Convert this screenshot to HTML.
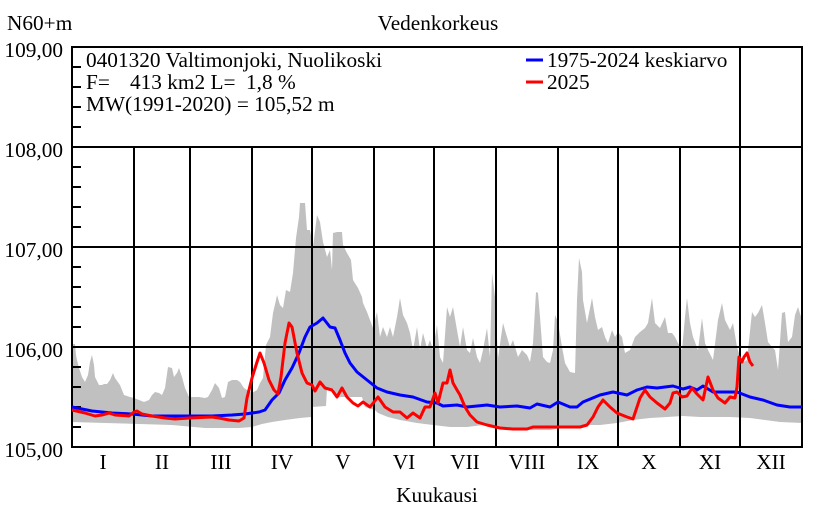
<!DOCTYPE html>
<html><head><meta charset="utf-8"><style>
html,body{margin:0;padding:0;background:#fff;}
svg{display:block;}
text{font-family:"Liberation Serif","Times New Roman",serif;font-size:21.3px;fill:#000;}
</style></head><body>
<svg width="840" height="520" viewBox="0 0 840 520" xmlns="http://www.w3.org/2000/svg">
<rect width="840" height="520" fill="#fff"/>
<!-- gray envelope -->
<polygon fill="#c0c0c0" stroke="none" points="72,344 75,344 76,355 77,360 79,368 82,377 85,382 88,375 90,362 92,355 94,365 95,377 99,385 102,385 104,384 107,384 110,380 113,373 115,378 120,385 124,395 130,397 134,398 139,400 144,402 149,400 152,395 155,392 159,393 162,395 165,388 168,367 172,368 174,377 177,373 179,368 182,377 185,388 189,397 199,397 205,398 208,397 212,390 215,383 219,388 222,398 225,397 228,382 232,380 237,380 240,382 244,388 247,390 252,393 257,390 260,383 263,378 266,345 270,337 273,313 276,300 277,295 280,305 283,308 286,290 290,292 293,273 296,238 299,217 300,203 305,203 307,230 310,230 313,247 317,215 320,222 323,242 327,257 330,250 332,270 333,233 337,232 342,232 343,245 347,253 351,260 353,280 358,288 362,297 363,303 367,312 370,320 373,328 377,312 380,337 383,327 387,337 390,327 393,337 397,317 400,298 403,315 407,323 410,333 413,350 417,327 420,350 423,333 427,348 430,340 433,350 437,325 440,357 443,363 447,307 450,317 453,307 457,330 460,347 463,327 467,350 470,353 473,338 477,357 480,363 483,350 487,328 490,357 492,273 495,297 498,358 503,323 507,337 510,347 513,340 518,357 522,350 527,355 530,362 533,343 536,292 538,293 540,317 543,357 547,362 550,363 553,350 555,315 558,322 562,347 565,363 570,372 575,373 577,300 579,258 582,272 583,300 587,323 592,298 595,317 598,330 602,327 605,337 608,343 612,330 615,337 618,332 622,337 625,353 630,350 635,337 640,332 645,328 648,323 652,298 655,323 660,328 665,317 668,333 672,333 675,337 678,343 682,350 685,317 687,298 690,323 693,337 698,350 702,318 705,343 708,350 713,360 718,320 722,303 725,320 730,330 733,323 737,347 742,363 747,360 752,312 755,317 758,313 762,305 765,323 768,342 772,347 775,350 778,370 782,313 785,312 788,342 792,337 795,315 798,307 802,320 802,423 780,422 765,420 750,418 730,417 700,417 683,416 667,417 650,418 633,420 617,423 600,425 583,425 567,427 550,430 533,430 500,428 483,425 467,427 450,427 433,425 417,423 400,420 388,417 378,413 375,410 365,407 362,397 335,397 334,389 327,389 326,406 312,407 311,417 300,418 285,420 272,422 262,424 252,427 239,428 205,428 172,425 139,424 105,423 72,422"/>
<!-- grid -->
<g stroke="#000" stroke-width="2" fill="none">
<line x1="72" y1="147" x2="802" y2="147"/>
<line x1="72" y1="247" x2="802" y2="247"/>
<line x1="72" y1="347" x2="802" y2="347"/>
<line x1="134" y1="147" x2="134" y2="447"/>
<line x1="190" y1="147" x2="190" y2="447"/>
<line x1="252" y1="147" x2="252" y2="447"/>
<line x1="312" y1="147" x2="312" y2="447"/>
<line x1="374" y1="147" x2="374" y2="447"/>
<line x1="434" y1="147" x2="434" y2="447"/>
<line x1="496" y1="147" x2="496" y2="447"/>
<line x1="558" y1="147" x2="558" y2="447"/>
<line x1="618" y1="147" x2="618" y2="447"/>
<line x1="680" y1="147" x2="680" y2="447"/>
<line x1="740" y1="47" x2="740" y2="447"/>
<path d="M72 67H81M72 87H81M72 107H81M72 127H81M72 167H81M72 187H81M72 207H81M72 227H81M72 267H81M72 287H81M72 307H81M72 327H81M72 367H81M72 387H81M72 407H81M72 427H81"/>
<rect x="72" y="47" width="730" height="400"/>
</g>
<!-- mean -->
<polyline fill="none" stroke="#0000ff" stroke-width="3" stroke-linejoin="round" points="72,407 92,411 112,413 132,414 152,416 172,416 192,416 212,416 232,415 245,414 259,412 265,410 272,400 279,393 285,380 292,368 299,353 305,337 310,327 317,323 323,318 330,327 335,328 340,340 345,353 350,363 357,372 367,380 377,388 387,392 400,395 413,397 427,402 437,403 443,406 457,405 467,407 487,405 500,407 517,406 530,408 537,404 550,407 558,402 570,407 577,407 583,402 600,395 613,392 627,395 637,390 647,387 657,388 673,386 683,389 690,387 697,390 703,386 713,392 723,392 737,392 750,397 763,400 777,405 790,407 802,407"/>
<!-- 2025 -->
<polyline fill="none" stroke="#ff0000" stroke-width="3" stroke-linejoin="round" points="72,410 85,413 95,416 102,415 109,413 115,415 129,416 134,412 137,411 142,414 152,416 165,418 175,419 189,418 212,417 219,418 229,420 239,421 244,418 247,398 252,378 257,362 260,353 264,363 269,380 274,390 278,394 281,377 285,343 289,323 292,327 297,353 302,373 307,383 312,385 315,391 320,382 325,388 332,390 337,397 342,388 347,397 353,403 358,406 363,402 370,407 378,397 385,407 393,412 400,412 407,418 413,413 420,418 425,407 430,407 435,393 438,403 443,383 447,383 450,370 453,383 457,390 460,395 465,407 470,415 477,422 487,425 500,428 513,429 527,429 533,427 550,427 560,427 575,427 580,427 587,425 593,417 598,407 603,400 610,407 617,413 627,417 633,419 637,407 640,398 645,390 650,397 657,403 665,409 670,403 673,393 677,392 682,397 687,396 692,388 697,394 703,400 708,377 713,390 718,398 725,403 730,397 735,398 737,387 739,357 742,362 744,357 747,353 750,362 753,366"/>
<!-- legend -->
<line x1="526" y1="60" x2="543" y2="60" stroke="#0000ff" stroke-width="3"/>
<line x1="526" y1="82" x2="543" y2="82" stroke="#ff0000" stroke-width="3"/>
<text x="547" y="67">1975-2024 keskiarvo</text>
<text x="547" y="89">2025</text>
<!-- info text -->
<text x="86" y="67">0401320 Valtimonjoki, Nuolikoski</text>
<text y="89"><tspan x="86">F=</tspan><tspan x="130">413 km2 L=</tspan><tspan x="246">1,8 %</tspan></text>
<text x="86" y="111">MW(1991-2020) = 105,52 m</text>
<!-- titles -->
<text x="7" y="30">N60+m</text>
<text x="438" y="30" text-anchor="middle">Vedenkorkeus</text>
<text x="437" y="502" text-anchor="middle">Kuukausi</text>
<!-- y labels -->
<g text-anchor="end">
<text x="63" y="57">109,00</text>
<text x="63" y="157">108,00</text>
<text x="63" y="257">107,00</text>
<text x="63" y="357">106,00</text>
<text x="63" y="457">105,00</text>
</g>
<!-- month labels -->
<g text-anchor="middle">
<text x="103" y="469">I</text>
<text x="162" y="469">II</text>
<text x="221" y="469">III</text>
<text x="282" y="469">IV</text>
<text x="343" y="469">V</text>
<text x="404" y="469">VI</text>
<text x="465" y="469">VII</text>
<text x="527" y="469">VIII</text>
<text x="588" y="469">IX</text>
<text x="649" y="469">X</text>
<text x="710" y="469">XI</text>
<text x="771" y="469">XII</text>
</g>
</svg>
</body></html>
